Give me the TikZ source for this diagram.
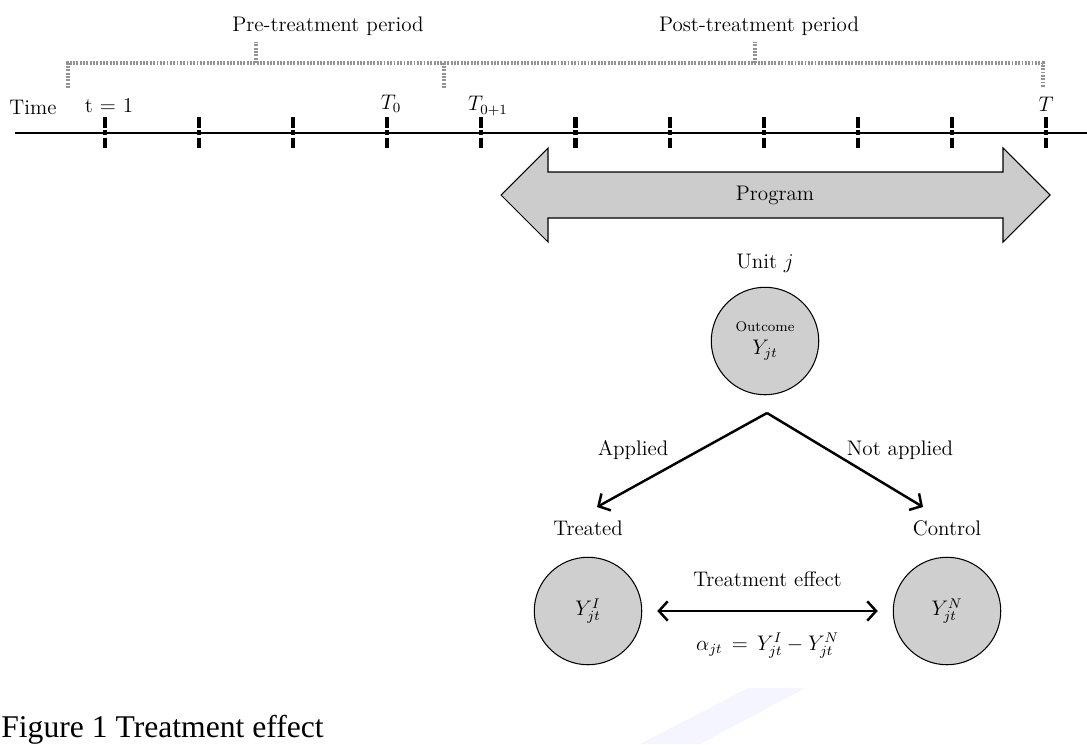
\documentclass[tikz,border=0pt]{standalone}
\usepackage{amsmath, amssymb}
\usepackage{fontspec}
\newfontfamily\capfont{Liberation Serif}
\usetikzlibrary{arrows.meta, positioning}

\begin{document}
\begin{tikzpicture}[x=0.02cm, y=-0.02cm,
    every node/.style={font=\fontsize{12}{14}\selectfont},
    timeline/.style={line width=1.6pt},
    tickmark/.style={line width=2.3pt, dash pattern=on 6pt off 1.6pt on 2.6pt off 1.6pt},
    period/.style={gray!85, line width=1.8pt, dash pattern=on 1.1pt off 0.8pt},
    unit/.style={circle, draw, line width=0.6pt, fill=gray!38, minimum size=2.15cm, inner sep=0pt},
    branch/.style={line width=1.4pt, -{Straight Barb[length=5pt, width=11pt]}}]

                % Fix the page size
                \useasboundingbox (0, 0) rectangle (1087, 744);

                % Draw the time line
                \draw[timeline] (15, 133) -- (1087, 133);

                % Draw the ticks on the line
                \foreach \x in {105, 199.1, 293.2, 387.3, 481.4, 575.5, 669.6, 763.7, 857.8, 951.9, 1046} {
                    \draw[tickmark] (\x, 117) -- (\x, 149); % one period
                }

                % Add labels to the time line
                \node (time) at (33, 107) {Time};
                \node (first) at (109, 106) {t = 1};
                \node (tzero) at (391, 104) {$T_0$};
                \node (tone) at (488, 106) {$T_{0+1}$};
                \node (tlast) at (1046, 104) {$T$};

                % Draw the two periods (dotted braces)
                \draw[period] (68, 88) -- (68, 63) -- (444, 63) -- (444, 88);
                \draw[period] (256, 63) -- (256, 42);
                \draw[period] (444, 63) -- (1043, 63) -- (1043, 88);
                \draw[period] (755, 63) -- (755, 42);
                \node (pre) at (328, 26) {Pre-treatment period};
                \node (post) at (759, 26) {Post-treatment period};

                % Draw the program arrow
                \draw[line width=0.6pt, fill=gray!40] (501, 195) -- (548, 148) -- (548, 172) -- (1003, 172) -- (1003, 148)
                    -- (1050, 195) -- (1003, 242) -- (1003, 218) -- (548, 218) -- (548, 242) -- cycle;
                \node (program) at (775, 195) {Program};

                % Draw the unit and its two outcomes
                \node (unitlbl) at (765, 263) {Unit $j$};
                \node[unit, align=center] (outcome) at (765, 341) {{\fontsize{8}{9}\selectfont Outcome}\\[-1pt]$Y_{jt}$};
                \node[unit] (treated) at (588, 611) {$Y_{jt}^{I}$};
                \node[unit] (control) at (947, 611) {$Y_{jt}^{N}$};
                \node (treatedlbl) at (588, 528) {Treated};
                \node (controllbl) at (947, 528) {Control};

                % Draw the branches
                \coordinate (fork) at (767, 413);
                \coordinate (applyend) at (597, 507);
                \coordinate (notapplyend) at (923, 507);
                \draw[branch] (fork) -- (applyend);
                \draw[branch] (fork) -- (notapplyend);
                \node (applied) at (633, 450) {Applied};
                \node (notapplied) at (900, 450) {Not applied};

                % Draw the treatment effect
                \draw[line width=1.4pt, {Straight Barb[length=5pt, width=11pt]}-{Straight Barb[length=5pt, width=11pt]},
                    shorten <=0.3cm, shorten >=0.3cm] (treated) -- (control)
                    node[midway, above=0.35cm] (effect) {Treatment effect}
                    node[midway, below=0.3cm] (alpha) {$\alpha_{jt} \,=\, Y_{jt}^{I} - Y_{jt}^{N}$};

                % Faint mark at the bottom
                \fill[blue!4] (640, 744) -- (748, 688) -- (805, 688) -- (700, 744) -- cycle;

                % Add the caption
                \node[anchor=base west, inner sep=0pt, font=\capfont\fontsize{18}{20}\selectfont] (caption) at (1, 737) {Figure 1 Treatment effect};

                \end{tikzpicture}
\end{document}
